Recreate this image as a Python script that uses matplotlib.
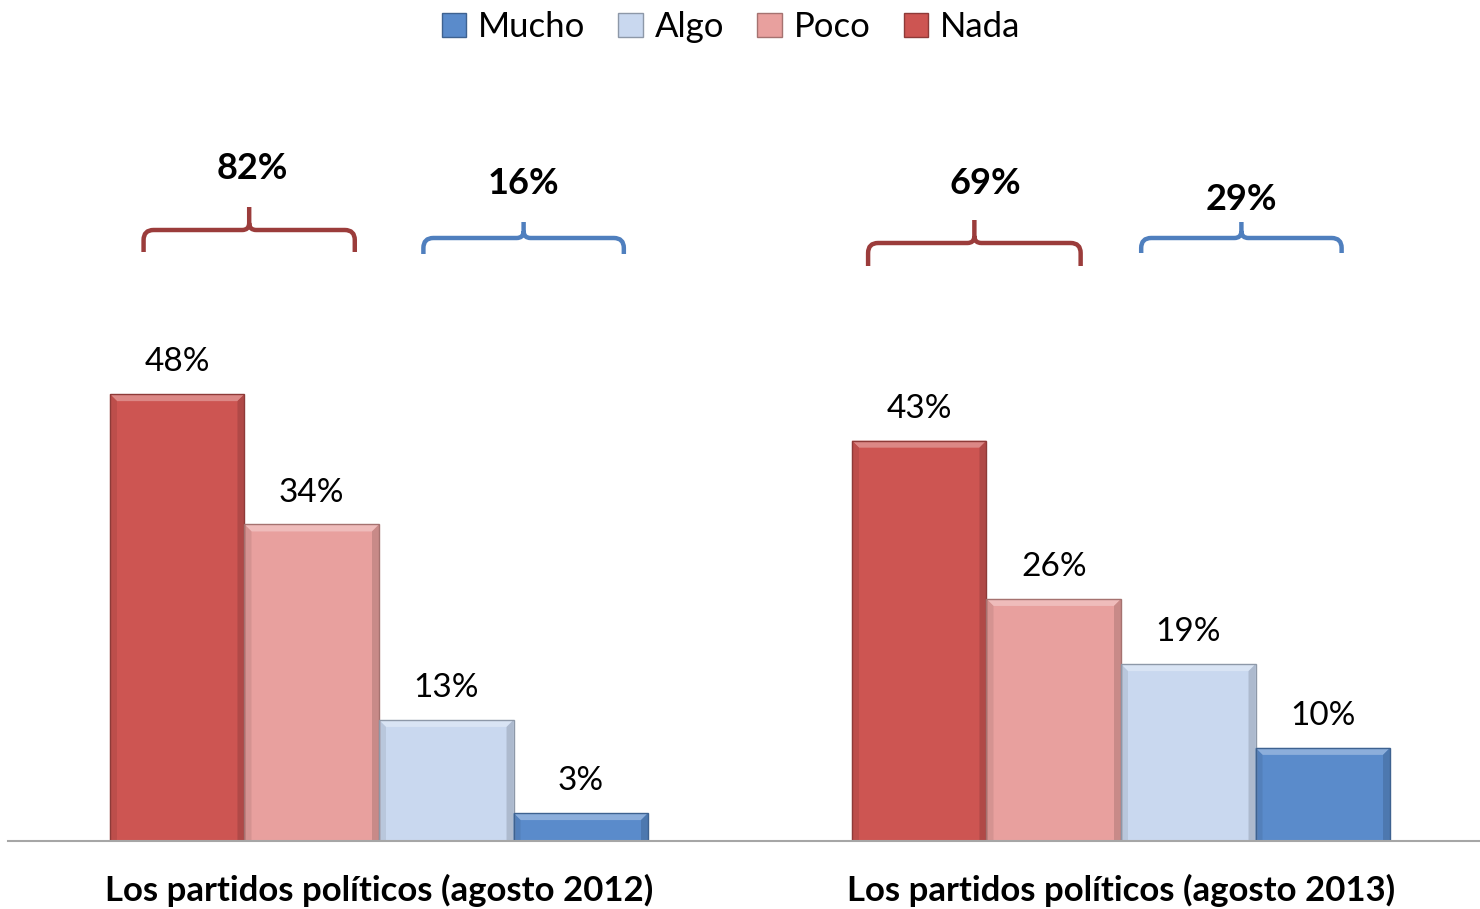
import matplotlib
matplotlib.use("Agg")
import matplotlib.pyplot as plt
from matplotlib.patches import Patch, PathPatch, Polygon
from matplotlib.path import Path
from matplotlib.transforms import IdentityTransform
from matplotlib.colors import to_rgb

plt.rcParams['font.family'] = ['Lato', 'DejaVu Sans']

# ---- data ----
categories = ["Los partidos políticos (agosto 2012)", "Los partidos políticos (agosto 2013)"]
series_names = ["Nada", "Poco", "Algo", "Mucho"]
nada = [48, 43]
poco = [34, 26]
algo = [13, 19]
mucho = [3, 10]
negative_total = [82, 69]   # Nada + Poco
positive_total = [16, 29]   # Algo + Mucho
legend_order = ["Mucho", "Algo", "Poco", "Nada"]

colors = {"Nada": "#CD5552", "Poco": "#E8A09E", "Algo": "#C9D8EF", "Mucho": "#5A8BCB"}
edges = {"Nada": "#8E3A38", "Poco": "#A57270", "Algo": "#8D98A8", "Mucho": "#3E6290"}


def mix(c, other, t):
    a, b = to_rgb(c), to_rgb(other)
    return tuple(a[k] * (1 - t) + b[k] * t for k in range(3))


W, H = 1480, 909
fig = plt.figure(figsize=(W / 100, H / 100), dpi=100)
ax = fig.add_axes([8 / W, 68 / H, 1484 / W, 841 / H])
ax.set_xlim(-0.5, 1.5)
px_per_y = 9.31
ax.set_ylim(0, 841 / px_per_y)
px_per_x = 742.0

bw = 0.1813
bev_x = 7 / px_per_x
bev_y = 7 / px_per_y
values = [nada, poco, algo, mucho]
x = list(range(len(categories)))
for i, (name, vals) in enumerate(zip(series_names, values)):
    pos = [xi + (i - 1.5) * bw for xi in x]
    bars = ax.bar(pos, vals, width=bw, color=colors[name], edgecolor="none",
                  linewidth=0, zorder=2)
    for rect, v in zip(bars, vals):
        l = rect.get_x()
        r = l + rect.get_width()
        top = rect.get_height()
        by = min(bev_y, top / 2)
        ax.add_patch(Polygon([(l, top), (r, top), (r - bev_x, top - by), (l + bev_x, top - by)],
                             closed=True, facecolor=mix(colors[name], "white", 0.3),
                             edgecolor="none", zorder=3))
        ax.add_patch(Polygon([(l, 0), (l, top), (l + bev_x, top - by), (l + bev_x, 0)],
                             closed=True, facecolor=mix(colors[name], "black", 0.08),
                             edgecolor="none", zorder=3))
        ax.add_patch(Polygon([(r, 0), (r, top), (r - bev_x, top - by), (r - bev_x, 0)],
                             closed=True, facecolor=mix(colors[name], "black", 0.14),
                             edgecolor="none", zorder=3))
        ax.add_patch(Polygon([(l, 0), (r, 0), (r, top), (l, top)], closed=True,
                             facecolor="none", edgecolor=edges[name], linewidth=1.0,
                             zorder=4))
    for p, v in zip(pos, vals):
        ax.text(p, v + 1.8, f"{v}%", ha="center", va="bottom", fontsize=24,
                color="black")

for s in ["top", "left", "right"]:
    ax.spines[s].set_visible(False)
ax.spines["bottom"].set_color("#A6A6A6")
ax.spines["bottom"].set_linewidth(1.5)
ax.spines["bottom"].set_zorder(5)
ax.set_yticks([])
ax.set_xticks(x)
ax.set_xticklabels(categories, fontsize=25, fontweight="bold")
ax.tick_params(axis="x", length=0, pad=24)

# ---- braces ----
fig.canvas.draw()
trans = ax.transData


def brace(x0, x1, yline, drop, tip, color, label, label_x, label_y):
    (px0, py), = trans.transform([(x0, yline)])
    (px1, _), = trans.transform([(x1, yline)])
    pc = (px0 + px1) / 2
    r, r2 = 10, 7
    verts = [
        (px0, py - drop), (px0, py - r), (px0, py), (px0 + r, py),
        (pc - r2, py), (pc, py), (pc, py + r2), (pc, py + tip),
        (pc, py + r2), (pc, py), (pc + r2, py),
        (px1 - r, py), (px1, py), (px1, py - r), (px1, py - drop),
    ]
    codes = [Path.MOVETO, Path.LINETO, Path.CURVE3, Path.CURVE3,
             Path.LINETO, Path.CURVE3, Path.CURVE3, Path.LINETO,
             Path.MOVETO, Path.CURVE3, Path.CURVE3,
             Path.LINETO, Path.CURVE3, Path.CURVE3, Path.LINETO]
    patch = PathPatch(Path(verts, codes), facecolor="none", edgecolor=color,
                      linewidth=3.2, transform=IdentityTransform(),
                      capstyle="butt", joinstyle="round")
    fig.add_artist(patch)
    ax.text(label_x, label_y, label, ha="center", va="center", fontsize=26,
            fontweight="bold", clip_on=False)


red = "#9B3C3B"
blue = "#4F7FBE"
brace_y_px = [(611, 22, 23, 672), (603, 16, 16, 657), (598, 23, 23, 657), (603, 15, 16, 641)]
brace_spans = [(-1.5, -0.5, 0.25, 0.18), (0.5, 1.5, 0.33, 0.18),
               (-1.5, -0.5, 0.12, 0.30), (0.5, 1.5, 0.15, 0.36)]
labels = [f"{negative_total[0]}%", f"{positive_total[0]}%",
          f"{negative_total[1]}%", f"{positive_total[1]}%"]
label_dx = [0.004, 0.0, 0.015, 0.0]
groups = [0, 0, 1, 1]
cols = [red, blue, red, blue]
for g, (a, b, il, ir), (yl, d, t, ly), lab, c, dx in zip(groups, brace_spans, brace_y_px,
                                                          labels, cols, label_dx):
    left = g + (a - 0.5) * bw + il * bw
    right = g + (b + 0.5) * bw - ir * bw
    brace(left, right, yl / px_per_y, d, t, c, lab, (left + right) / 2 + dx, ly / px_per_y)

# ---- legend ----
handles = [Patch(facecolor=colors[n], edgecolor=edges[n], linewidth=1.0, label=n)
           for n in legend_order]
fig.legend(handles=handles, loc="upper center", bbox_to_anchor=(0.494, 1.022),
           ncol=4, frameon=False, fontsize=25, handlelength=0.7,
           handleheight=0.7, handletextpad=0.35, columnspacing=0.95)

fig.savefig("out.png", dpi=100)
